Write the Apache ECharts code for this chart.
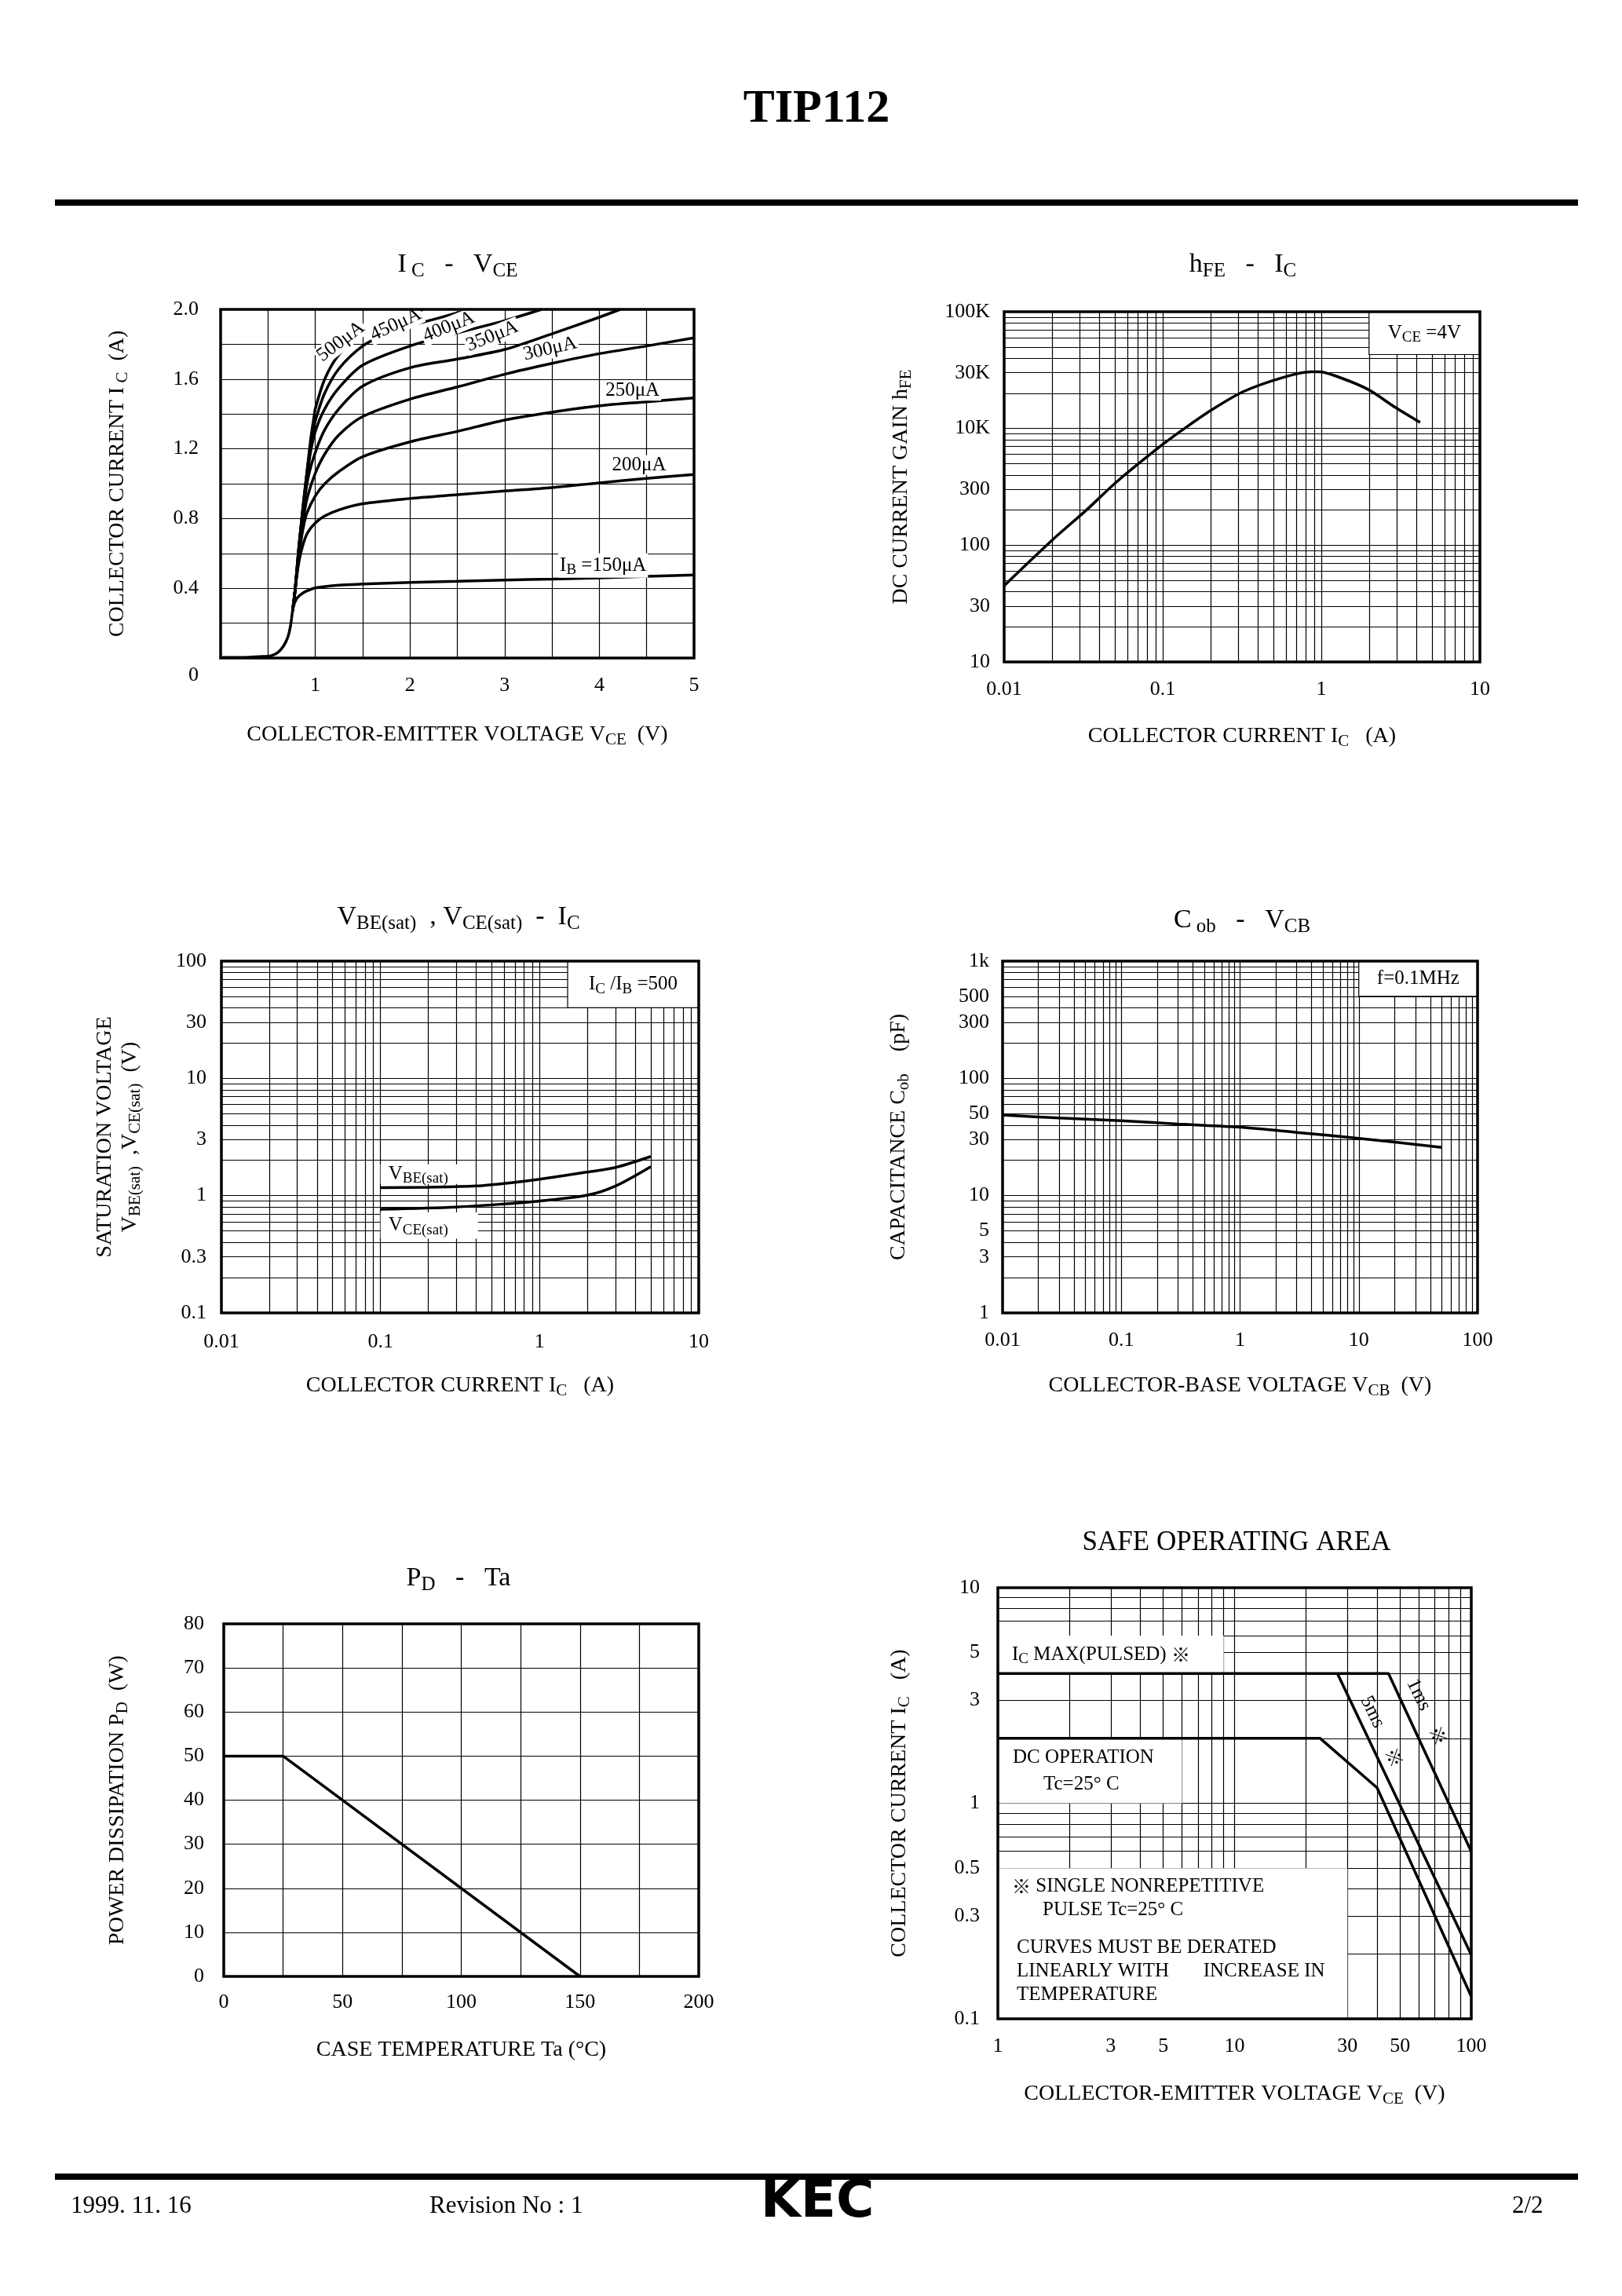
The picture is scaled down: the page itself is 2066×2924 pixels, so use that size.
<!DOCTYPE html>
<html>
<head>
<meta charset="utf-8">
<script src="https://cdn.jsdelivr.net/npm/echarts@6.0.0/dist/echarts.min.js"></script>
<style>
html,body{margin:0;padding:0;background:#fff;}
#c{width:2066px;height:2924px;}
</style>
</head>
<body>
<div id="c"></div>
<script>
// ================= DATA =================
// Chart 1: IC - VCE   [VCE (V), IC (A)]
const ibNames = ['150μA','200μA','250μA','300μA','350μA','400μA','450μA','500μA'];
const ib150 = [[0.02,0.003],[0.3,0.005],[0.45,0.009],[0.53,0.013],[0.6,0.03],[0.66,0.065],[0.71,0.12],[0.74,0.19],[0.76,0.27],[0.78,0.315],[0.81,0.345],[0.85,0.365],[0.9,0.382],[1.0,0.402],[1.25,0.418],[1.5,0.424],[2.0,0.434],[2.5,0.44],[3.0,0.447],[3.5,0.453],[4.0,0.46],[4.5,0.468],[5.0,0.476]];
const ib200 = [[0.76,0.27],[0.78,0.36],[0.8,0.45],[0.83,0.56],[0.87,0.65],[0.92,0.72],[1.0,0.775],[1.1,0.815],[1.25,0.85],[1.5,0.885],[2.0,0.915],[2.5,0.937],[3.0,0.958],[3.5,0.978],[4.0,1.005],[4.5,1.03],[5.0,1.053]];
const ib250 = [[0.76,0.27],[0.785,0.38],[0.81,0.52],[0.84,0.64],[0.87,0.74],[0.91,0.83],[1.0,0.93],[1.1,1.0],[1.25,1.07],[1.5,1.155],[2.0,1.24],[2.5,1.3],[3.0,1.365],[3.5,1.41],[4.0,1.447],[4.5,1.47],[5.0,1.492]];
const ib300 = [[0.76,0.27],[0.785,0.38],[0.815,0.54],[0.85,0.7],[0.88,0.82],[0.92,0.93],[1.0,1.06],[1.1,1.17],[1.25,1.28],[1.5,1.385],[2.0,1.485],[2.5,1.555],[3.0,1.628],[3.5,1.69],[4.0,1.746],[4.5,1.79],[5.0,1.837]];
const ib350 = [[0.76,0.27],[0.785,0.38],[0.82,0.58],[0.86,0.78],[0.89,0.92],[0.93,1.05],[1.0,1.18],[1.1,1.31],[1.25,1.43],[1.5,1.56],[2.0,1.665],[2.5,1.715],[3.0,1.77],[3.5,1.86],[4.0,1.955],[4.22,2.0]];
const ib400 = [[0.76,0.27],[0.785,0.38],[0.82,0.6],[0.87,0.85],[0.91,1.03],[0.95,1.18],[1.0,1.3],[1.1,1.43],[1.25,1.55],[1.5,1.68],[2.0,1.79],[2.5,1.865],[3.0,1.935],[3.39,2.0]];
const ib450 = [[0.76,0.27],[0.785,0.38],[0.83,0.65],[0.88,0.92],[0.93,1.14],[0.97,1.28],[1.0,1.36],[1.1,1.52],[1.25,1.66],[1.5,1.79],[1.75,1.86],[2.0,1.905],[2.3,1.95],[2.64,2.0]];
const ib500 = [[0.76,0.27],[0.785,0.38],[0.83,0.66],[0.89,0.96],[0.95,1.25],[0.985,1.38],[1.0,1.43],[1.1,1.6],[1.25,1.74],[1.5,1.86],[1.75,1.92],[2.0,1.97],[2.14,2.0]];

// Chart 2: hFE - IC  [IC (A), axis value]
const hfeCurve = [[0.01,45],[0.02,110],[0.033,200],[0.052,355],[0.1,730],[0.14,1020],[0.2,1420],[0.32,2060],[0.57,2730],[0.86,3060],[0.97,3060],[1.22,2830],[1.96,2170],[2.94,1510],[4.2,1125]];
const hfeXTicks = [0.01,0.1,1,10];
const hfeXTickLabels = ['0.01','0.1','1','10'];
const hfeYTicks = [10,30,100,300,1000,3000,10000];
const hfeYTickLabels = ['10','30','100','300','10K','30K','100K'];

// Chart 3: VBE(sat), VCE(sat) - IC
const vbeSat = [[0.1,1.17],[0.2,1.18],[0.4,1.21],[0.7,1.3],[1.0,1.38],[2.0,1.59],[3.0,1.74],[5.0,2.16]];
const vceSat = [[0.1,0.766],[0.3,0.8],[0.6,0.85],[1.0,0.9],[2.0,1.01],[3.0,1.21],[5.0,1.77]];
const satXTicks = [0.01,0.1,1,10];
const satXTickLabels = ['0.01','0.1','1','10'];
const satYTicks = [0.1,0.3,1,3,10,30,100];
const satYTickLabels = ['0.1','0.3','1','3','10','30','100'];

// Chart 4: Cob - VCB
const cobCurve = [[0.01,48.7],[0.03,46],[0.1,43.6],[0.3,40.8],[1,38.3],[3,34.6],[10,30.8],[50,25.8]];
const cobXTicks = [0.01,0.1,1,10,100];
const cobXTickLabels = ['0.01','0.1','1','10','100'];
const cobYTicks = [1,3,5,10,30,50,100,300,500,1000];
const cobYTickLabels = ['1','3','5','10','30','50','100','300','500','1k'];

// Chart 5: PD - Ta
const pdCurve = [[0,50],[25,50],[150,0]];

// Chart 6: Safe operating area
const soaDC = [[1,2],[23,2],[40,1.18],[100,0.127]];
const soa5ms = [[27.2,4],[100,0.198]];
const soa1ms = [[1,4],[44.7,4],[100,0.597]];
const soaXTicks = [1,3,5,10,30,50,100];
const soaXTickLabels = ['1','3','5','10','30','50','100'];
const soaYTicks = [0.1,0.3,0.5,1,3,5,10];
const soaYTickLabels = ['0.1','0.3','0.5','1','3','5','10'];

// ================= STYLE =================
const FONT = "'Liberation Serif','Times New Roman','DejaVu Serif','Noto Sans CJK JP',serif";
const CJK = "'Noto Sans CJK JP','DejaVu Sans',sans-serif";
const NAME_RICH = {
  m:{fontSize:28,fontFamily:FONT,color:'#000'},
  s:{fontSize:21,fontFamily:FONT,color:'#000',padding:[14,0,0,0]},
  l:{fontSize:28,fontFamily:FONT,color:'#000',lineHeight:29}
};
const TITLE_RICH = {
  a:{fontSize:34,fontFamily:FONT,color:'#000',fontWeight:'normal'},
  b:{fontSize:25,fontFamily:FONT,color:'#000',fontWeight:'normal',padding:[16,0,0,0]},
  c:{fontSize:35,fontFamily:FONT,color:'#000',fontWeight:'normal'}
};
const NOTE_RICH = {
  m:{fontSize:25,fontFamily:FONT,color:'#000',lineHeight:30},
  s:{fontSize:19,fontFamily:FONT,color:'#000',padding:[12,0,0,0]},
  i:{fontSize:25,fontFamily:FONT,color:'#000',lineHeight:30,padding:[0,0,0,39]},
  j:{fontSize:25,fontFamily:FONT,color:'#000',lineHeight:30,padding:[0,0,0,6]},
  k:{fontSize:24,fontFamily:CJK,color:'#000',lineHeight:30},
  g:{fontSize:10,lineHeight:18},
  d:{fontSize:25,fontFamily:FONT,color:'#000',lineHeight:34},
  e:{fontSize:25,fontFamily:FONT,color:'#000',lineHeight:34,padding:[0,0,0,39]}
};

function logGrid(min, max) {
  const out = [];
  for (let d = min; d < max * 0.999; d *= 10) {
    for (let k = 1; k < 10; k++) out.push(parseFloat((d * k).toPrecision(6)));
  }
  out.push(max);
  return out;
}
function labelFmt(vals, texts) {
  return function (v) {
    for (let i = 0; i < vals.length; i++) {
      if (Math.abs(Math.log10(v) - Math.log10(vals[i])) < 1e-6) return texts[i];
    }
    return '';
  };
}
function axis(o) {
  const a = {
    gridIndex: o.grid, type: o.type, min: o.min, max: o.max,
    name: o.name, nameLocation: 'middle', nameGap: o.gap, nameMoveOverlap: false,
    nameTextStyle: {color:'#000', fontFamily:FONT, fontSize:28, rich:NAME_RICH},
    axisLine: {show:false},
    axisTick: {show:false},
    splitLine: {show:true, lineStyle:{color:'#000', width:1.2}},
    axisLabel: {color:'#000', fontFamily:FONT, fontSize:26, margin:o.margin, formatter:o.fmt},
    silent: true, z: 0
  };
  if (o.type === 'log') {
    a.logBase = 10;
    a.axisTick.customValues = logGrid(o.min, o.max);
    a.axisLabel.customValues = o.labels;
  } else {
    a.interval = o.interval;
  }
  if (o.rich) a.axisLabel.rich = o.rich;
  return a;
}
function curve(data, idx, extra) {
  return Object.assign({
    type:'line', data:data, xAxisIndex:idx, yAxisIndex:idx,
    showSymbol:false, symbol:'none', smooth:0.3,
    lineStyle:{color:'#000', width:3.5}, itemStyle:{color:'#000'},
    silent:true, animation:false, z:3
  }, extra || {});
}
function tag(coord, text, rot, bg) {
  return {
    coord: coord, symbol:'circle', symbolSize:1, itemStyle:{color:'rgba(0,0,0,0)'},
    label:{show:true, position:'inside', formatter:text, rotate:rot, color:'#000',
      fontFamily:FONT, fontSize:25, rich:NOTE_RICH,
      backgroundColor: bg ? '#fff' : 'transparent', padding:[0,2]}
  };
}
function box(x0, y0, x1, y1, text, pos, border, extraLabel) {
  return [
    {xAxis:x0, yAxis:y0,
     itemStyle:{color:'#fff', borderColor:'#000', borderWidth: border ? 1.2 : 0},
     label:Object.assign({show:true, position:pos, formatter:text, color:'#000',
       fontFamily:FONT, fontSize:25, rich:NOTE_RICH}, extraLabel || {})},
    {xAxis:x1, yAxis:y1}
  ];
}

// ================= LAYOUT =================
const gridRects = [
  {left:281, top:394, width:603, height:444},
  {left:1279, top:397, width:606, height:446},
  {left:282, top:1224, width:608, height:448},
  {left:1277, top:1224, width:605, height:448},
  {left:285, top:2068, width:605, height:449},
  {left:1271, top:2022, width:603, height:549}
];
const grids = gridRects.map(g => Object.assign({
  show:true, borderColor:'#000', borderWidth:3.5, backgroundColor:'transparent',
  z:10, containLabel:false, outerBoundsMode:'none'
}, g));

const titleDefs = [
  ['{a|I}{b| C}{a|   -   V}{b|CE}', 583, 337],
  ['{a|h}{b|FE}{a|   -   I}{b|C}', 1583, 337],
  ['{a|V}{b|BE(sat)}{a|  , V}{b|CE(sat)}{a|  -  I}{b|C}', 584, 1168],
  ['{a|C}{b| ob}{a|   -   V}{b|CB}', 1582, 1172],
  ['{a|P}{b|D}{a|   -   Ta}', 584, 2010],
  ['{c|SAFE OPERATING AREA}', 1575, 1965]
];
const titles = titleDefs.map(t => ({
  text:t[0], left:t[1], top:t[2], textAlign:'center', textVerticalAlign:'middle', padding:0,
  textStyle:{rich:TITLE_RICH, color:'#000', fontFamily:FONT, fontSize:34, fontWeight:'normal'}
}));

const xAxes = [
  axis({grid:0, type:'value', min:0, max:5, interval:0.5, gap:80, margin:22,
    name:'{m|COLLECTOR-EMITTER VOLTAGE V}{s|CE}{m|  (V)}',
    fmt: v => (v > 0 && Math.abs(v - Math.round(v)) < 1e-9) ? String(Math.round(v)) : ''}),
  axis({grid:1, type:'log', min:0.01, max:10, labels:hfeXTicks, fmt:labelFmt(hfeXTicks, hfeXTickLabels),
    gap:77, margin:22, name:'{m|COLLECTOR CURRENT I}{s|C}{m|   (A)}'}),
  axis({grid:2, type:'log', min:0.01, max:10, labels:satXTicks, fmt:labelFmt(satXTicks, satXTickLabels),
    gap:75, margin:24, name:'{m|COLLECTOR CURRENT I}{s|C}{m|   (A)}'}),
  axis({grid:3, type:'log', min:0.01, max:100, labels:cobXTicks, fmt:labelFmt(cobXTicks, cobXTickLabels),
    gap:75, margin:22, name:'{m|COLLECTOR-BASE VOLTAGE V}{s|CB}{m|  (V)}'}),
  axis({grid:4, type:'value', min:0, max:200, interval:25, gap:80, margin:20,
    name:'{m|CASE TEMPERATURE Ta (°C)}',
    fmt: v => (v % 50 === 0) ? String(v) : ''}),
  axis({grid:5, type:'log', min:1, max:100, labels:soaXTicks, fmt:labelFmt(soaXTicks, soaXTickLabels),
    gap:78, margin:22, name:'{m|COLLECTOR-EMITTER VOLTAGE V}{s|CE}{m|  (V)}'})
];
const yAxes = [
  axis({grid:0, type:'value', min:0, max:2, interval:0.2, gap:114, margin:28,
    name:'{m|COLLECTOR CURRENT I}{s| C}{m|  (A)}',
    fmt: v => Math.abs(v) < 1e-9 ? '{z|0}' : (Math.round(v * 10) % 4 === 0 ? v.toFixed(1) : ''),
    rich:{z:{fontSize:26, fontFamily:FONT, color:'#000', padding:[44,0,0,0]}}}),
  axis({grid:1, type:'log', min:10, max:10000, labels:hfeYTicks, fmt:labelFmt(hfeYTicks, hfeYTickLabels),
    gap:114, margin:18, name:'{m|DC CURRENT GAIN h}{s|FE}'}),
  axis({grid:2, type:'log', min:0.1, max:100, labels:satYTicks, fmt:labelFmt(satYTicks, satYTickLabels),
    gap:99, margin:19, name:'{l|SATURATION VOLTAGE}\n{m|V}{s|BE(sat)}{m|  ,V}{s|CE(sat)}{m|  (V)}'}),
  axis({grid:3, type:'log', min:1, max:1000, labels:cobYTicks, fmt:labelFmt(cobYTicks, cobYTickLabels),
    gap:115, margin:17, name:'{m|CAPACITANCE C}{s|ob}{m|    (pF)}'}),
  axis({grid:4, type:'value', min:0, max:80, interval:10, gap:118, margin:25,
    name:'{m|POWER DISSIPATION P}{s|D}{m|  (W)}', fmt: v => String(v)}),
  axis({grid:5, type:'log', min:0.1, max:10, labels:soaYTicks, fmt:labelFmt(soaYTicks, soaYTickLabels),
    gap:108, margin:23, name:'{m|COLLECTOR CURRENT I}{s|C}{m|   (A)}'})
];

const series = [
  // Chart 1
  curve(ib150, 0, {name:ibNames[0], markPoint:{silent:true, data:[tag([4.04,0.53], '{m|I}{s|B}{m| =150μA}', 0, true)]}}),
  curve(ib200, 0, {name:ibNames[1], markPoint:{silent:true, data:[tag([4.42,1.107], '200μA', 0, true)]}}),
  curve(ib250, 0, {name:ibNames[2], markPoint:{silent:true, data:[tag([4.35,1.533], '250μA', 0, true)]}}),
  curve(ib300, 0, {name:ibNames[3], markPoint:{silent:true, data:[tag([3.48,1.773], '300μA', 13, true)]}}),
  curve(ib350, 0, {name:ibNames[4], markPoint:{silent:true, data:[tag([2.87,1.846], '350μA', 22, true)]}}),
  curve(ib400, 0, {name:ibNames[5], markPoint:{silent:true, data:[tag([2.41,1.9], '400μA', 22, true)]}}),
  curve(ib450, 0, {name:ibNames[6], markPoint:{silent:true, data:[tag([1.85,1.912], '450μA', 25, true)]}}),
  curve(ib500, 0, {name:ibNames[7], markPoint:{silent:true, data:[tag([1.27,1.815], '500μA', 37, true)]}}),
  // Chart 2
  curve(hfeCurve, 1, {name:'hFE', markArea:{silent:true, data:[
    box(2, 4300, 10, 10000, '{m|V}{s|CE}{m| =4V}', 'inside', true)
  ]}}),
  // Chart 3
  curve(vbeSat, 2, {name:'VBE(sat)', markArea:{silent:true, data:[
    box(1.5, 40, 10, 100, '{m|I}{s|C}{m| /I}{s|B}{m| =500}', 'inside', true),
    box(0.1, 1.26, 0.315, 1.85, '{m|V}{s|BE(sat)}', 'insideLeft', false, {distance:10})
  ]}}),
  curve(vceSat, 2, {name:'VCE(sat)', markArea:{silent:true, data:[
    box(0.1, 0.43, 0.41, 0.72, '{m|V}{s|CE(sat)}', 'insideLeft', false, {distance:10})
  ]}}),
  // Chart 4
  curve(cobCurve, 3, {name:'Cob', markArea:{silent:true, data:[
    box(10, 500, 100, 1000, 'f=0.1MHz', 'inside', true)
  ]}}),
  // Chart 5
  curve(pdCurve, 4, {name:'PD', smooth:false}),
  // Chart 6
  curve(soaDC, 5, {name:'DC', smooth:false, markArea:{silent:true, data:[
    box(1, 4, 9, 6, '{m|I}{s|C}{m| MAX(PULSED) }{k|※}', 'insideLeft', false, {distance:18}),
    box(1, 1, 6, 2, '{d|DC OPERATION}\n{e|Tc=25° C}', 'insideTopLeft', false, {distance:0, padding:[8,0,0,19]}),
    box(1, 0.1, 30, 0.5, '{k|※}{m| SINGLE NONREPETITIVE}\n{i|PULSE Tc=25° C}\n{g| }\n{j|CURVES MUST BE DERATED}\n{j|LINEARLY WITH       INCREASE IN}\n{j|TEMPERATURE}', 'insideTopLeft', false, {distance:0, padding:[8,0,0,18]})
  ]}}),
  curve(soa5ms, 5, {name:'5ms', smooth:false, markPoint:{silent:true, data:[tag([41.9,2.15], '{m|5ms     }{k|※}', -64, false)]}}),
  curve(soa1ms, 5, {name:'1ms', smooth:false, markPoint:{silent:true, data:[tag([65,2.65], '{m|1ms    }{k|※}', -64, false)]}})
];

const graphicEls = [
  {type:'text', x:1040, y:139, style:{text:'TIP112', fill:'#000', fontSize:60, fontWeight:'bold', fontFamily:FONT, align:'center', verticalAlign:'middle', textAlign:'center', textVerticalAlign:'middle'}},
  {type:'rect', shape:{x:70, y:254, width:1940, height:8}, style:{fill:'#000'}},
  {type:'rect', shape:{x:70, y:2768, width:1940, height:8}, style:{fill:'#000'}},
  {type:'text', x:90, y:2810, style:{text:'1999. 11. 16', fill:'#000', fontSize:31, fontFamily:FONT, align:'left', verticalAlign:'middle', textAlign:'left', textVerticalAlign:'middle'}},
  {type:'text', x:547, y:2810, style:{text:'Revision No : 1', fill:'#000', fontSize:31, fontFamily:FONT, align:'left', verticalAlign:'middle', textAlign:'left', textVerticalAlign:'middle'}},
  {type:'text', x:1041, y:2806, style:{text:'KEC', fill:'#000', fontSize:66, fontWeight:'bold', fontFamily:"'DejaVu Sans',sans-serif", align:'center', verticalAlign:'middle', textAlign:'center', textVerticalAlign:'middle'}},
  {type:'text', x:1926, y:2810, style:{text:'2/2', fill:'#000', fontSize:31, fontFamily:FONT, align:'left', verticalAlign:'middle', textAlign:'left', textVerticalAlign:'middle'}}
];

const chart = echarts.init(document.getElementById('c'), null, {renderer:'canvas', width:2066, height:2924});
chart.setOption({
  backgroundColor:'#fff',
  animation:false,
  textStyle:{fontFamily:FONT, color:'#000'},
  title:titles,
  grid:grids,
  xAxis:xAxes,
  yAxis:yAxes,
  series:series,
  graphic:{elements:graphicEls}
});
</script>
</body>
</html>
